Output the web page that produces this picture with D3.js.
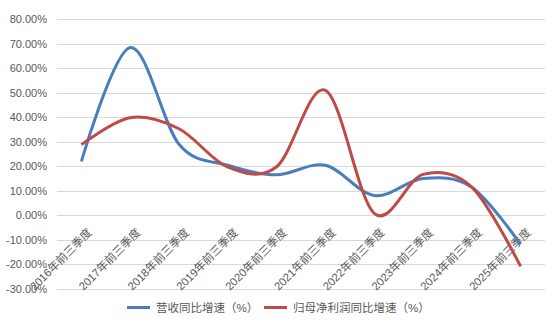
<!DOCTYPE html>
<html><head><meta charset="utf-8">
<script src="https://cdn.jsdelivr.net/npm/d3@7"></script>
<style>
html,body{margin:0;padding:0;background:#fff;}
text{font-family:"Liberation Sans","Noto Sans CJK SC",sans-serif;}
</style></head>
<body><svg id="c" width="560" height="327"></svg>
<script>
const categories = ["2016年前三季度","2017年前三季度","2018年前三季度","2019年前三季度","2020年前三季度","2021年前三季度","2022年前三季度","2023年前三季度","2024年前三季度","2025年前三季度"];
const revenueGrowth = [22.0, 68.4, 29.0, 20.4, 16.5, 20.4, 8.1, 15.0, 11.5, -11.8];
const profitGrowth = [28.8, 39.8, 35.3, 19.7, 19.8, 50.9, 0.8, 16.7, 11.5, -20.8];
const seriesNames = ["营收同比增速（%）","归母净利润同比增速（%）"];
const yTicks = [80,70,60,50,40,30,20,10,0,-10,-20,-30];
const colors = ["#4A7EBB","#BE4B48"];

(function(){
const svg = d3.select("#c");
const pl = 57, pr = 545, pt = 19, pb = 289;
const x = d3.scaleBand().domain(categories).range([pl, pr]);
const y = d3.scaleLinear().domain([-30, 80]).range([pb, pt]);

svg.append("g").selectAll("line").data(yTicks).join("line")
  .attr("x1", pl).attr("x2", pr)
  .attr("y1", d => Math.round(y(d)) + 0.5).attr("y2", d => Math.round(y(d)) + 0.5)
  .attr("stroke", "#D9D9D9").attr("stroke-width", 1);

svg.append("g").selectAll("text").data(yTicks).join("text")
  .attr("x", 47).attr("y", d => y(d) + 4)
  .attr("text-anchor", "end").attr("font-size", 11).attr("fill", "#595959")
  .text(d => d.toFixed(2) + "%");

svg.append("g").selectAll("text").data(categories).join("text")
  .attr("text-anchor", "end").attr("font-size", 11.3).attr("fill", "#595959")
  .attr("transform", d => `translate(${x(d) + x.bandwidth()/2 + 11},${y(0) + 18}) rotate(-45)`)
  .text(d => d);

const line = d3.line()
  .x((d, i) => x(categories[i]) + x.bandwidth()/2)
  .y(d => y(d))
  .curve(d3.curveCardinal.tension(0));

[revenueGrowth, profitGrowth].forEach((s, k) => {
  svg.append("path").datum(s).attr("d", line)
    .attr("fill", "none").attr("stroke", colors[k]).attr("stroke-width", 3)
    .attr("stroke-linecap", "butt").attr("stroke-linejoin", "round");
});

const leg = [{x: 127, name: seriesNames[0], c: colors[0]}, {x: 264, name: seriesNames[1], c: colors[1]}];
leg.forEach(l => {
  svg.append("line").attr("x1", l.x).attr("x2", l.x + 23).attr("y1", 307.5).attr("y2", 307.5)
    .attr("stroke", l.c).attr("stroke-width", 3);
  svg.append("text").attr("x", l.x + 29).attr("y", 311.5).attr("font-size", 11.5)
    .attr("fill", "#595959").text(l.name);
});
})();
</script></body></html>
